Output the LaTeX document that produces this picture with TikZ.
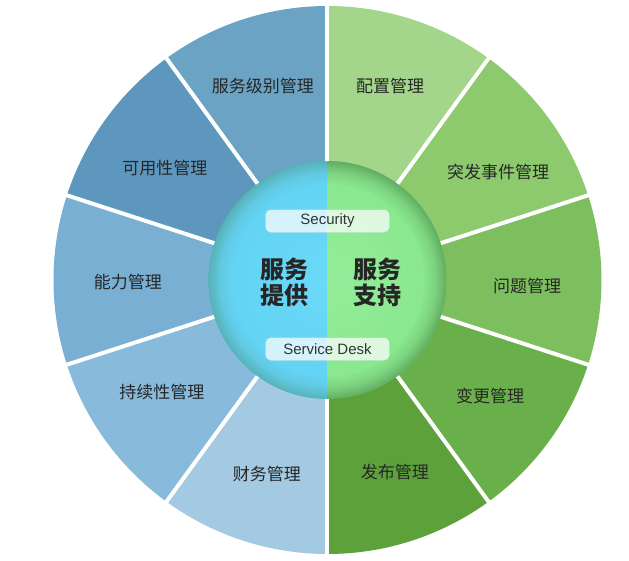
\documentclass[tikz,border=0pt]{standalone}
\usepackage{fontspec}
\setmainfont{Liberation Sans}
\newfontfamily\cjk{Noto Sans CJK SC}
\definecolor{slaBlue}{HTML}{6AA3C4}
\definecolor{availBlue}{HTML}{5E97BE}
\definecolor{capBlue}{HTML}{78AFD2}
\definecolor{contBlue}{HTML}{88BADB}
\definecolor{finBlue}{HTML}{A3CAE2}
\definecolor{confGreen}{HTML}{A3D68A}
\definecolor{incGreen}{HTML}{8DCA6D}
\definecolor{probGreen}{HTML}{7DBE5E}
\definecolor{chgGreen}{HTML}{6AB04A}
\definecolor{relGreen}{HTML}{5DA13B}
\definecolor{tagLine}{HTML}{A9C9C6}
\pgfdeclareradialshading{provideShade}{\pgfpoint{0bp}{0bp}}{rgb(0bp)=(0.42,0.85,0.97); rgb(20bp)=(0.39,0.83,0.96); rgb(22.5bp)=(0.38,0.79,0.89); rgb(25bp)=(0.34,0.70,0.72); rgb(50bp)=(0.34,0.70,0.72)}
\pgfdeclareradialshading{supportShade}{\pgfpoint{0bp}{0bp}}{rgb(0bp)=(0.58,0.93,0.60); rgb(20bp)=(0.54,0.91,0.56); rgb(22.5bp)=(0.49,0.83,0.50); rgb(25bp)=(0.38,0.68,0.38); rgb(50bp)=(0.38,0.68,0.38)}

\begin{document}
\begin{tikzpicture}[x=1pt,y=1pt,
  item/.style={font=\cjk\fontsize{17}{17}\selectfont, text=black!85, inner sep=0pt},
  core/.style={font=\cjk\bfseries\fontsize{24}{26}\selectfont, align=center, text=black!85, inner sep=0pt},
  tag/.style={draw=tagLine, fill=white, fill opacity=0.72, text opacity=1, rounded corners=5pt, minimum width=124pt, minimum height=23pt, inner sep=0pt, font=\fontsize{15}{15}\selectfont, text=black!80},
  gap/.style={draw=white, line width=4pt}]
\useasboundingbox (-327.5,-280) rectangle (301.5,280);
\fill[slaBlue] (0,0) -- (90:274) arc (90:126:274) -- cycle;
\fill[availBlue] (0,0) -- (126:274) arc (126:162:274) -- cycle;
\fill[capBlue] (0,0) -- (162:274) arc (162:198:274) -- cycle;
\fill[contBlue] (0,0) -- (198:274) arc (198:234:274) -- cycle;
\fill[finBlue] (0,0) -- (234:274) arc (234:270:274) -- cycle;
\fill[confGreen] (0,0) -- (90:274) arc (90:54:274) -- cycle;
\fill[incGreen] (0,0) -- (54:274) arc (54:18:274) -- cycle;
\fill[probGreen] (0,0) -- (18:274) arc (18:-18:274) -- cycle;
\fill[chgGreen] (0,0) -- (-18:274) arc (-18:-54:274) -- cycle;
\fill[relGreen] (0,0) -- (-54:274) arc (-54:-90:274) -- cycle;
\draw[gap] (0,0) -- (90:278);
\draw[gap] (0,0) -- (126:278);
\draw[gap] (0,0) -- (162:278);
\draw[gap] (0,0) -- (198:278);
\draw[gap] (0,0) -- (234:278);
\draw[gap] (0,0) -- (270:278);
\draw[gap] (0,0) -- (54:278);
\draw[gap] (0,0) -- (18:278);
\draw[gap] (0,0) -- (-18:278);
\draw[gap] (0,0) -- (-54:278);
\begin{scope}
\clip (-125,-125) rectangle (0,125);
\shade[shading=provideShade] (0,0) circle (119);
\end{scope}
\begin{scope}
\clip (0,-125) rectangle (125,125);
\shade[shading=supportShade] (0,0) circle (119);
\end{scope}
\node[item] (sla) at (-64.5,194) {服务级别管理};
\node[item] (avail) at (-162.5,112) {可用性管理};
\node[item] (capacity) at (-199.5,-2) {能力管理};
\node[item] (continuity) at (-165.5,-112) {持续性管理};
\node[item] (finance) at (-60.5,-194) {财务管理};
\node[item] (config) at (62.5,194) {配置管理};
\node[item] (incident) at (170.5,108) {突发事件管理};
\node[item] (problem) at (199.5,-6) {问题管理};
\node[item] (change) at (162.5,-116) {变更管理};
\node[item] (release) at (67.5,-192) {发布管理};
\node[core] (provide) at (-43,-2) {服务\\提供};
\node[core] (support) at (50,-2) {服务\\支持};
\node[tag] (security) at (0,59) {Security};
\node[tag] (desk) at (0,-69) {Service Desk};
\end{tikzpicture}
\end{document}
